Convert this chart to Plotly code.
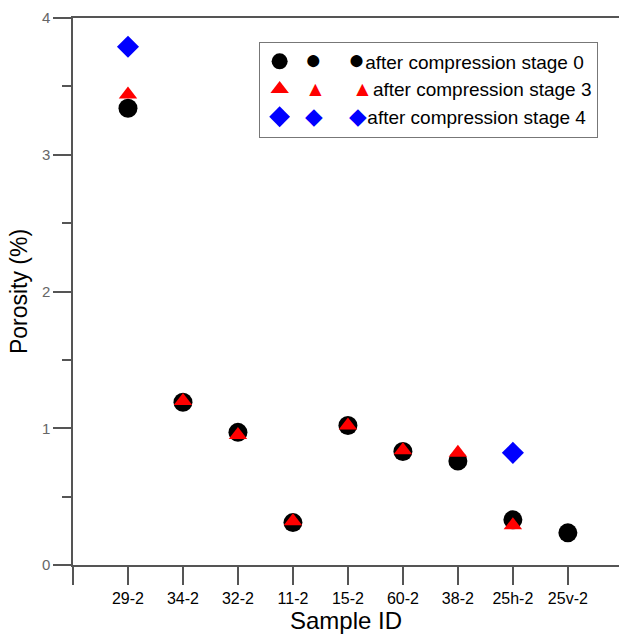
import plotly.graph_objects as go

samples = ["29-2", "34-2", "32-2", "11-2", "15-2", "60-2", "38-2", "25h-2", "25v-2"]
stage0 = [3.34, 1.19, 0.97, 0.31, 1.02, 0.83, 0.76, 0.33, 0.235]
stage3 = [3.44, 1.20, 0.95, 0.32, 1.02, 0.84, 0.82, 0.29, None]
stage4 = [3.79, None, None, None, None, None, None, 0.82, None]

xi = list(range(len(samples)))

FONT = "Liberation Sans, Arial, sans-serif"

def legname(sym, color, size, text):
    g = f'<span style="color:{color};font-size:{size}px">{sym}</span>'
    return f' {g}     {g}{text}'

fig = go.Figure()
fig.add_trace(go.Scatter(x=xi, y=stage0, mode="markers",
                         marker=dict(symbol="circle", size=19, color="black"),
                         name=legname("●", "black", 28, "after compression stage 0")))
fig.add_trace(go.Scatter(x=xi, y=stage3, mode="markers",
                         marker=dict(symbol="triangle-up", size=16, color="#ff0000"),
                         name=legname("▲", "#ff0000", 21, "after compression stage 3")))
fig.add_trace(go.Scatter(x=xi, y=stage4, mode="markers",
                         marker=dict(symbol="diamond", size=17, color="#0000ff"),
                         name=legname("◆", "#0000ff", 23, "after compression stage 4")))

fig.update_layout(
    width=619, height=637,
    margin=dict(l=73, r=0, t=18, b=72),
    paper_bgcolor="white", plot_bgcolor="white",
    font=dict(family=FONT, color="black"),
    showlegend=True,
    legend=dict(x=0.34, y=0.957, xanchor="left", yanchor="top",
                bordercolor="#777777", borderwidth=1, bgcolor="white",
                font=dict(size=19, family=FONT), tracegroupgap=0,
                itemwidth=30),
)
fig.update_xaxes(
    range=[-1, 8.93],
    tickvals=[-1] + xi, ticktext=[""] + samples,
    ticks="outside", ticklen=18, tickcolor="#555555", tickwidth=1.5,
    showline=True, linecolor="#555555", linewidth=1.5, mirror=True,
    showgrid=False, zeroline=False,
    tickfont=dict(size=16, color="black"),
    title=dict(text="Sample ID", font=dict(size=24), standoff=2),
)
fig.update_yaxes(
    range=[0, 4],
    tickvals=[0, 1, 2, 3, 4],
    ticks="outside", ticklen=18, tickcolor="#555555", tickwidth=1.5,
    minor=dict(tickvals=[0.5, 1.5, 2.5, 3.5], ticks="outside", ticklen=9,
               tickcolor="#555555", tickwidth=1.5, showgrid=False),
    showline=True, linecolor="#555555", linewidth=1.5,
    showgrid=False, zeroline=False,
    tickfont=dict(size=15, color="#666666"),
    title=dict(text="Porosity (%)", font=dict(size=23), standoff=8),
)
fig.write_html("out.html")
